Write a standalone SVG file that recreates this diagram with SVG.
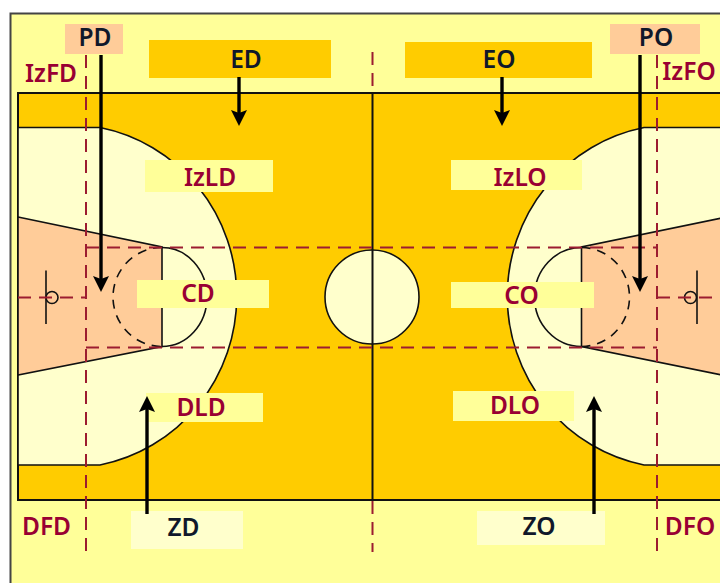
<svg xmlns="http://www.w3.org/2000/svg" width="720" height="583" viewBox="0 0 720 583">
<style>
.ln{fill:none;stroke:#111;stroke-width:1.6}
.red{fill:none;stroke:#9c1c30;stroke-width:2;stroke-dasharray:13 8}
.ar{fill:none;stroke:#000;stroke-width:3.4;marker-end:url(#head)}
text{font-family:"Noto Sans","Liberation Sans",sans-serif;font-weight:600;font-size:24.5px;text-anchor:middle}
.r{fill:#990033}
.k{fill:#10182a}
</style>
<defs>
<marker id="head" markerUnits="userSpaceOnUse" markerWidth="16" markerHeight="18" refX="8" refY="9" orient="auto" viewBox="0 0 16 18">
<path d="M0 1 L16 9 L0 17 L3 9 Z" fill="#000"/>
</marker>
</defs>
<rect width="720" height="583" fill="#fff"/>
<rect x="10.500" y="13.500" width="720" height="580" fill="#ffff99" stroke="#444" stroke-width="2"/>
<g id="court">
<rect x="18" y="93" width="710" height="407" fill="#ffcc00" stroke="#111" stroke-width="2"/>
<path d="M18 127.500 H100 A169.500 172 0 0 1 100 465 H18 Z" class="ln" style="fill:#ffffcc"/>
<path d="M722 127.500 H644 A169.500 172 0 0 0 644 465 H722 Z" class="ln" style="fill:#ffffcc"/>
<path d="M18 217 L162 247 V346.500 L18 375 Z" class="ln" style="fill:#ffcc99"/>
<path d="M722 218 L581.500 247 V346.500 L722 375 Z" class="ln" style="fill:#ffcc99"/>
<path d="M162 247.500 A45 49.500 0 0 1 162 346.500" class="ln"/>
<path d="M581.500 247.500 A47 49.500 0 0 0 581.500 346.500" class="ln"/>
<path d="M162 247.500 A49 49.500 0 0 0 162 346.500" class="ln" stroke-dasharray="9 7"/>
<path d="M581.500 247.500 A48 49.500 0 0 1 581.500 346.500" class="ln" stroke-dasharray="9 7"/>
<path d="M46 270.500 V324" class="ln"/>
<path d="M697 270.500 V324" class="ln"/>
<circle cx="52" cy="297.500" r="6" class="ln"/>
<circle cx="690.500" cy="297.500" r="6" class="ln"/>
<circle cx="372" cy="297" r="47" fill="#ffffcc" stroke="#111" stroke-width="1.600"/>
<path d="M372.500 93 V500" class="ln" style="stroke-width:2"/>
</g>
<g id="guides">
<path d="M86 55 V552" class="red"/>
<path d="M657 55 V552" class="red"/>
<path d="M372.500 52 V92 M372.500 501 V552" class="red"/>
<path d="M86 247.500 H657" class="red"/>
<path d="M86 347.500 H657" class="red"/>
<path d="M18 297.500 H86" class="red"/>
<path d="M657 297.500 H722" class="red"/>
</g>
<g id="node-PD"><rect x="65" y="24" width="58" height="30" fill="#ffcc99"/><text x="95" y="45.500" class="k">PD</text></g>
<g id="node-ED"><rect x="149" y="40" width="182" height="38" fill="#ffcc00"/><text x="246" y="68" class="k">ED</text></g>
<g id="node-EO"><rect x="405" y="42" width="187" height="36" fill="#ffcc00"/><text x="499" y="68" class="k">EO</text></g>
<g id="node-PO"><rect x="610" y="24" width="90" height="30" fill="#ffcc99"/><text x="656" y="45.500" class="k">PO</text></g>
<g id="node-IzFD"><text x="51" y="82" class="r">IzFD</text></g>
<g id="node-IzFO"><text x="689" y="80" class="r">IzFO</text></g>
<g id="node-IzLD"><rect x="145" y="160" width="128" height="32" fill="#ffff99"/><text x="210" y="186" class="r">IzLD</text></g>
<g id="node-IzLO"><rect x="451" y="160" width="131" height="30" fill="#ffff99"/><text x="520" y="186" class="r">IzLO</text></g>
<g id="node-CD"><rect x="137" y="280" width="132" height="28" fill="#ffff99"/><text x="198" y="302" class="r">CD</text></g>
<g id="node-CO"><rect x="451" y="282" width="143" height="26" fill="#ffff99"/><text x="521.500" y="304" class="r">CO</text></g>
<g id="node-DLD"><rect x="146" y="393" width="117" height="29" fill="#ffff99"/><text x="201" y="416" class="r">DLD</text></g>
<g id="node-DLO"><rect x="453" y="391" width="121" height="30" fill="#ffff99"/><text x="515" y="414" class="r">DLO</text></g>
<g id="node-ZD"><rect x="131" y="511" width="112" height="38" fill="#ffffcc"/><text x="183.500" y="536" class="k">ZD</text></g>
<g id="node-ZO"><rect x="477" y="511" width="128" height="34" fill="#ffffcc"/><text x="539" y="535" class="k">ZO</text></g>
<g id="node-DFD"><text x="46.500" y="535" class="r">DFD</text></g>
<g id="node-DFO"><text x="690" y="535" class="r">DFO</text></g>
<g id="connectors">
<path d="M101 55 V284" class="ar"/>
<path d="M640 55 V284" class="ar"/>
<path d="M239 77 V118" class="ar"/>
<path d="M502 77 V118" class="ar"/>
<path d="M147 514 V404" class="ar"/>
<path d="M594 514 V404" class="ar"/>
</g>
</svg>
